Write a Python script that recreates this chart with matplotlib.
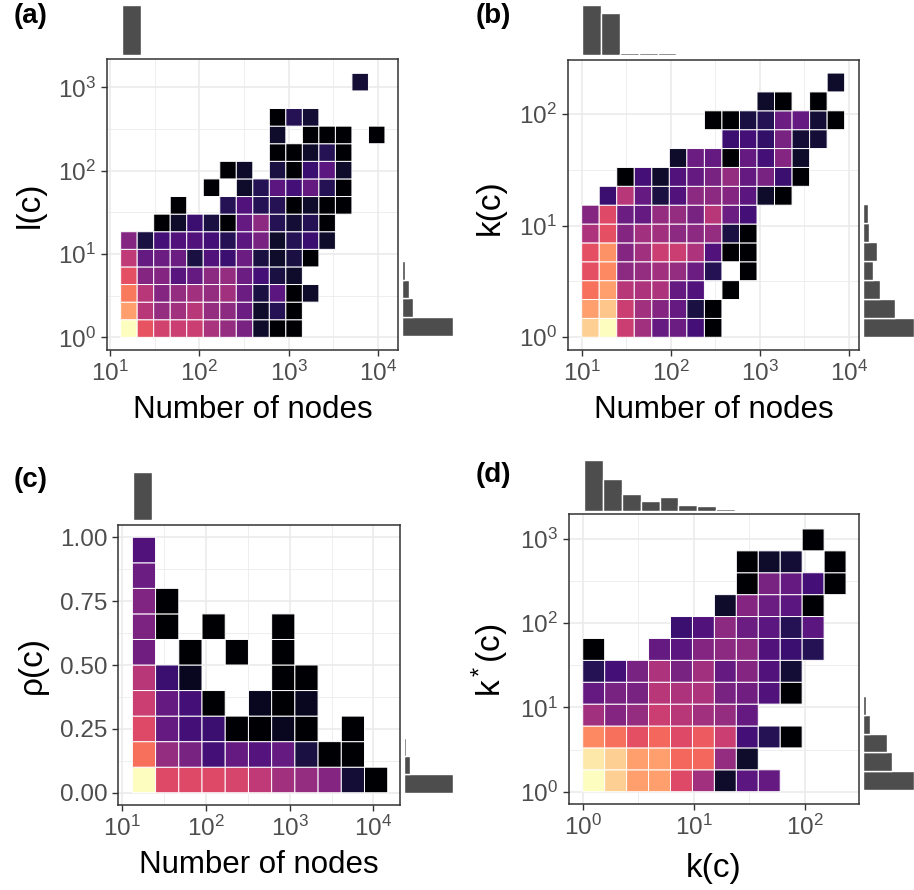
import numpy as np
import matplotlib.pyplot as plt
from matplotlib.ticker import FixedLocator, FuncFormatter, NullFormatter

plt.rcParams['font.family'] = 'Liberation Sans'
plt.rcParams['mathtext.fontset'] = 'custom'
plt.rcParams['mathtext.rm'] = 'Liberation Sans'
plt.rcParams['mathtext.it'] = 'Liberation Sans:italic'
plt.rcParams['mathtext.bf'] = 'Liberation Sans:bold'

N = None

# colour level of every bin (0 = black, 1 = pale yellow on magma), rows from the bottom up
# (a) l(c) vs number of nodes
grid_a = [
    [1.0, .63, .57, .55, .55, .47, .42, .35, .08, 0, 0, N, N, N, N, N],
    [.80, .50, .42, .45, .50, .42, .40, .32, .08, .15, 0, N, N, N, N, N],
    [.72, .50, .38, .42, .45, .42, .45, .32, .12, .28, 0, .08, N, N, N, N],
    [.62, .38, .38, .27, .30, .40, .42, .32, .22, .12, .08, N, N, N, N, N],
    [.52, .30, .32, .32, .12, .25, .20, .32, .12, .08, .12, 0, N, N, N, N],
    [.38, .12, .22, .25, .25, .22, .15, .28, .35, .08, .15, .20, .08, N, N, N],
    [N, N, 0, .08, .20, .12, 0, .30, .40, .15, .10, .15, 0, N, N, N],
    [N, N, N, 0, N, N, .15, .25, .15, .15, 0, .08, 0, 0, N, N],
    [N, N, N, N, N, 0, N, .08, .15, .28, .22, .30, .15, 0, N, N],
    [N, N, N, N, N, N, 0, .08, N, .12, 0, .20, .28, .08, N, N],
    [N, N, N, N, N, N, N, N, N, 0, 0, .08, .15, 0, N, N],
    [N, N, N, N, N, N, N, N, N, .08, N, 0, 0, 0, N, 0],
    [N, N, N, N, N, N, N, N, N, 0, .15, .10, N, N, N, N],
    [N, N, N, N, N, N, N, N, N, N, N, N, N, N, N, N],
    [N, N, N, N, N, N, N, N, N, N, N, N, N, N, .10, N],
]
# (b) k(c) vs number of nodes
grid_b = [
    [.90, 1.0, .55, .45, .30, .32, .22, 0, N, N, N, N, N, N, N],
    [.80, .88, .55, .45, .38, .30, .12, 0, N, N, N, N, N, N, N],
    [.70, .80, .50, .48, .48, .30, .25, N, 0, N, N, N, N, N, N],
    [.62, .75, .40, .42, .45, .42, .32, .15, N, 0, N, N, N, N, N],
    [.62, .77, .38, .45, .55, .55, .48, .25, 0, 0, N, N, N, N, N],
    [.48, .62, .38, .45, .45, .40, .40, .42, .12, 0, N, N, N, N, N],
    [.38, .60, .32, .30, .42, .42, .35, .50, .32, .22, N, N, N, N, N],
    [N, .20, .50, .30, .12, .25, .40, .40, .38, .28, .08, 0, N, N, N],
    [N, N, 0, .22, .08, .25, .30, .35, .42, .30, .35, .20, 0, N, N],
    [N, N, N, N, N, .08, .32, .30, 0, .30, .22, .38, .08, N, N],
    [N, N, N, N, N, N, N, N, .20, .22, .18, .35, .10, .10, N],
    [N, N, N, N, N, N, N, 0, 0, .12, .15, .32, .30, .10, 0],
    [N, N, N, N, N, N, N, N, N, N, .08, 0, N, 0, N],
    [N, N, N, N, N, N, N, N, N, N, N, N, N, N, .08],
]
# (c) rho(c) vs number of nodes
grid_c = [
    [1.0, .60, .60, .60, .58, .52, .45, .42, .38, .10, 0],
    [.70, .42, .35, .22, .30, .26, .30, .12, 0, 0, N],
    [.60, .30, .22, .20, 0, 0, .06, 0, N, 0, N],
    [.55, .30, .22, 0, N, .06, 0, .06, N, N, N],
    [.50, .20, .06, N, N, N, 0, 0, N, N, N],
    [.33, N, 0, N, 0, N, 0, N, N, N, N],
    [.36, 0, N, 0, N, N, 0, N, N, N, N],
    [.37, 0, N, N, N, N, N, N, N, N, N],
    [.32, N, N, N, N, N, N, N, N, N, N],
    [.25, N, N, N, N, N, N, N, N, N, N],
]
# (d) k*(c) vs k(c)
grid_d = [
    [1.0, .90, .80, .80, .60, .45, .08, .28, .30, N, N, N],
    [.95, .90, .80, .80, .68, .68, .42, .08, N, N, N, N],
    [.75, .70, .62, .68, .60, .65, .55, .22, .15, 0, N, N],
    [.45, .38, .42, .55, .50, .45, .42, .30, N, N, N, N],
    [.30, .35, .35, .50, .48, .48, .35, .33, .25, 0, N, N],
    [.15, .22, .35, .48, .35, .45, .30, .38, .25, .10, N, N],
    [0, N, N, .30, .28, .38, .40, .40, .25, .20, .15, N],
    [N, N, N, N, .20, .25, .40, .32, .28, .15, .28, N],
    [N, N, N, N, N, N, .08, .38, .32, .28, 0, N],
    [N, N, N, N, N, N, N, 0, .35, .30, .22, 0],
    [N, N, N, N, N, N, N, 0, .08, .10, N, 0],
    [N, N, N, N, N, N, N, N, N, N, 0, N],
]

# marginal histogram heights (relative counts)
top_a = [151, 2, 0.8, 1.5]
right_a = [153, 32, 21, 9]
top_b = [151, 125, 5, 5, 5, 2, 2]
right_b = [153, 96, 51, 31, 41, 17, 14, 2, 1]
top_c = [145, 3, 0, 2]
right_c = [147, 17, 5]
top_d = [152, 95, 50, 30, 40, 17, 14, 5, 2]
right_d = [153, 86, 73, 19, 8, 3, 2]

panel_letters = ['(a)', '(b)', '(c)', '(d)']
x_titles = ['Number of nodes', 'Number of nodes', 'Number of nodes', 'k(c)']
y_titles = ['l(c)', 'k(c)', 'ρ(c)', 'k$^*$(c)']
rho_ticks = [0.0, 0.25, 0.5, 0.75, 1.0]

W, H = 914, 890
fig = plt.figure(figsize=(W / 100, H / 100), dpi=100)
BAR = '#4d4d4d'


def px_axes(left, top, right, bottom):
    return fig.add_axes([left / W, 1 - bottom / H, (right - left) / W, (bottom - top) / H])


def log_edges(start, step, n):
    return 10 ** (start + step * np.arange(n + 1))


def sci(v, pos):
    return r'$\mathdefault{10^{%d}}$' % round(np.log10(v))


def style_log(axis, lo, hi):
    dec = np.arange(np.floor(lo), np.ceil(hi) + 1)
    axis.set_major_locator(FixedLocator(10 ** dec))
    axis.set_minor_locator(FixedLocator(10 ** (dec + 0.5)))
    axis.set_major_formatter(FuncFormatter(sci))
    axis.set_minor_formatter(NullFormatter())


def panel(box, xlim, ylim, xe, ye, grid, ylog=True):
    ax = px_axes(*box)
    ax.set_xscale('log')
    if ylog:
        ax.set_yscale('log')
    ax.set_axisbelow(True)
    z = np.ma.masked_invalid(np.array(grid, dtype=float))
    ax.pcolor(xe, ye, z, cmap='magma', vmin=0, vmax=1, edgecolors='white', linewidth=0.7)
    ax.set_xlim(10 ** xlim[0], 10 ** xlim[1])
    style_log(ax.xaxis, *xlim)
    if ylog:
        ax.set_ylim(10 ** ylim[0], 10 ** ylim[1])
        style_log(ax.yaxis, *ylim)
    else:
        ax.set_ylim(*ylim)
        ax.yaxis.set_major_locator(FixedLocator(rho_ticks))
        ax.yaxis.set_minor_locator(FixedLocator([0.125, 0.375, 0.625, 0.875]))
        ax.yaxis.set_major_formatter(FuncFormatter(lambda v, p: '%.2f' % v))
    ax.grid(True, which='major', color='#ebebeb', lw=1.2)
    ax.grid(True, which='minor', color='#ebebeb', lw=0.6)
    for s in ax.spines.values():
        s.set_color('#333333')
        s.set_linewidth(1.1)
    ax.tick_params(which='major', length=4.5, width=1, color='#333333',
                   labelcolor='#4d4d4d', labelsize=17.5, pad=3.5)
    ax.tick_params(which='minor', length=0)
    return ax


def top_hist(box, xlim, edges, h):
    ax = px_axes(*box)
    ax.set_xscale('log')
    ax.bar(edges[:-1], h, width=np.diff(edges), align='edge', color=BAR,
           edgecolor='white', linewidth=1.0)
    ax.set_xlim(10 ** xlim[0], 10 ** xlim[1])
    ax.set_ylim(0, max(h))
    ax.axis('off')


def right_hist(box, ylim, edges, h, ylog=True):
    ax = px_axes(*box)
    if ylog:
        ax.set_yscale('log')
        ax.set_ylim(10 ** ylim[0], 10 ** ylim[1])
    else:
        ax.set_ylim(*ylim)
    ax.barh(edges[:-1], h, height=np.diff(edges), align='edge', color=BAR,
            edgecolor='white', linewidth=1.0)
    ax.set_xlim(0, max(h))
    ax.axis('off')


# (a)
xa, ya = (0.966, 4.225), (-0.152, 3.34)
panel((107, 59, 398, 350), xa, ya, log_edges(1.119, 0.185, 16), log_edges(0.0, 0.2112, 15), grid_a)
top_hist((107, 4.7, 398, 55), xa, log_edges(1.13, 0.2146, 4), top_a)
right_hist((402.3, 59, 453.3, 350), ya, log_edges(0.016, 0.226, 4), right_a)

# (b)
xb, yb = (0.843, 4.116), (-0.114, 2.483)
panel((567.7, 60, 859, 350), xb, yb, log_edges(1.0, 0.197, 15), log_edges(0.0, 0.169, 14), grid_b)
top_hist((567.7, 4.7, 859, 55), xb, log_edges(1.007, 0.2115, 7), top_b)
right_hist((863, 60, 914, 350), yb, log_edges(0.006, 0.169, 9), right_b)

# (c)
xc, yc = (0.952, 4.318), (-0.048, 1.048)
panel((118.3, 525, 400, 805), xc, yc, log_edges(1.12, 0.2774, 11), np.linspace(0, 1, 11), grid_c, ylog=False)
top_hist((118.3, 471.7, 400, 520), xc, log_edges(1.131, 0.219, 4), top_c)
right_hist((404.3, 525, 453.3, 805), yc, np.linspace(0, 0.216, 4), right_c, ylog=False)

# (d)
xd, yd = (-0.121, 2.489), (-0.146, 3.294)
panel((569.3, 514.3, 859, 804), xd, yd, log_edges(0.0, 0.1977, 12), log_edges(0.0, 0.26, 12), grid_d)
top_hist((569.3, 460, 859, 510.7), xd, log_edges(0.012, 0.17, 9), top_d)
right_hist((863.3, 514.3, 914, 804), yd, log_edges(0.02, 0.223, 7), right_d)

# titles and panel letters
letter_pos = [(14, 16), (475.7, 16), (14, 480), (475.7, 475)]
for s, (x, y) in zip(panel_letters, letter_pos):
    fig.text(x / W, 1 - y / H, s, fontsize=20, fontweight='bold', ha='left', va='center')

xt_pos = [(252.5, 410), (713.4, 410), (259, 865), (714, 868)]
xt_size = [22.5, 22.5, 22.5, 24]
for s, (x, y), fs in zip(x_titles, xt_pos, xt_size):
    fig.text(x / W, 1 - y / H, s, fontsize=fs, ha='center', va='center')

yt_pos = [(30, 205), (490.7, 206.7), (32, 665), (490.7, 660)]
for s, (x, y) in zip(y_titles, yt_pos):
    fig.text(x / W, 1 - y / H, s, fontsize=24, ha='center', va='center', rotation=90)

fig.savefig('out.png', dpi=100)
